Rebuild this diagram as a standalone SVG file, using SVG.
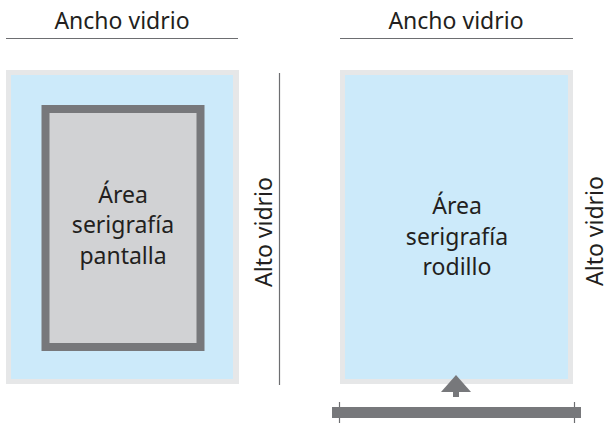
<svg xmlns="http://www.w3.org/2000/svg" width="613" height="423" viewBox="0 0 613 423">
<style>
.t{font-family:"Noto Sans","Open Sans",sans-serif;font-size:23px;fill:#231f20;text-anchor:middle}
.glass{fill:#e6e7e8}
.blue{fill:#cceafa}
.ln{stroke:#6d6e71;stroke-width:1.2;fill:none}
.dk{fill:#77787b}
</style>
<rect width="613" height="423" fill="#ffffff"/>
<g id="left-glass">
<rect class="glass" x="6" y="70" width="233" height="314"/>
<rect class="blue" x="11" y="75" width="222" height="304"/>
</g>
<g id="pantalla-frame">
<rect x="45.5" y="109" width="155" height="238" fill="#d1d2d4" stroke="#77787b" stroke-width="8"/>
<text class="t" x="123" y="203">Área</text>
<text class="t" x="123" y="233">serigrafía</text>
<text class="t" x="123" y="264">pantalla</text>
</g>
<g id="right-glass">
<rect class="glass" x="340" y="70" width="233" height="314"/>
<rect class="blue" x="345" y="75" width="223" height="304"/>
<text class="t" x="457" y="214">Área</text>
<text class="t" x="457" y="245">serigrafía</text>
<text class="t" x="457" y="275">rodillo</text>
</g>
<g id="connectors">
<line class="ln" x1="6" y1="38.5" x2="238" y2="38.5"/>
<line class="ln" x1="340" y1="38.5" x2="573" y2="38.5"/>
<line class="ln" x1="279.5" y1="73" x2="279.5" y2="385"/>
<line class="ln" x1="339.5" y1="402" x2="339.5" y2="423"/>
<line class="ln" x1="574.5" y1="402" x2="574.5" y2="423"/>
</g>
<g id="labels">
<text class="t" x="122" y="29">Ancho vidrio</text>
<text class="t" x="456" y="29">Ancho vidrio</text>
<text class="t" transform="translate(272 232) rotate(-90)">Alto vidrio</text>
<text class="t" transform="translate(603 231) rotate(-90)">Alto vidrio</text>
</g>
<g id="rodillo">
<polygon class="dk" points="456,375 471,392 441,392"/>
<rect class="dk" x="453" y="391" width="6" height="6"/>
<rect class="dk" x="332" y="407" width="249" height="11"/>
</g>
</svg>
